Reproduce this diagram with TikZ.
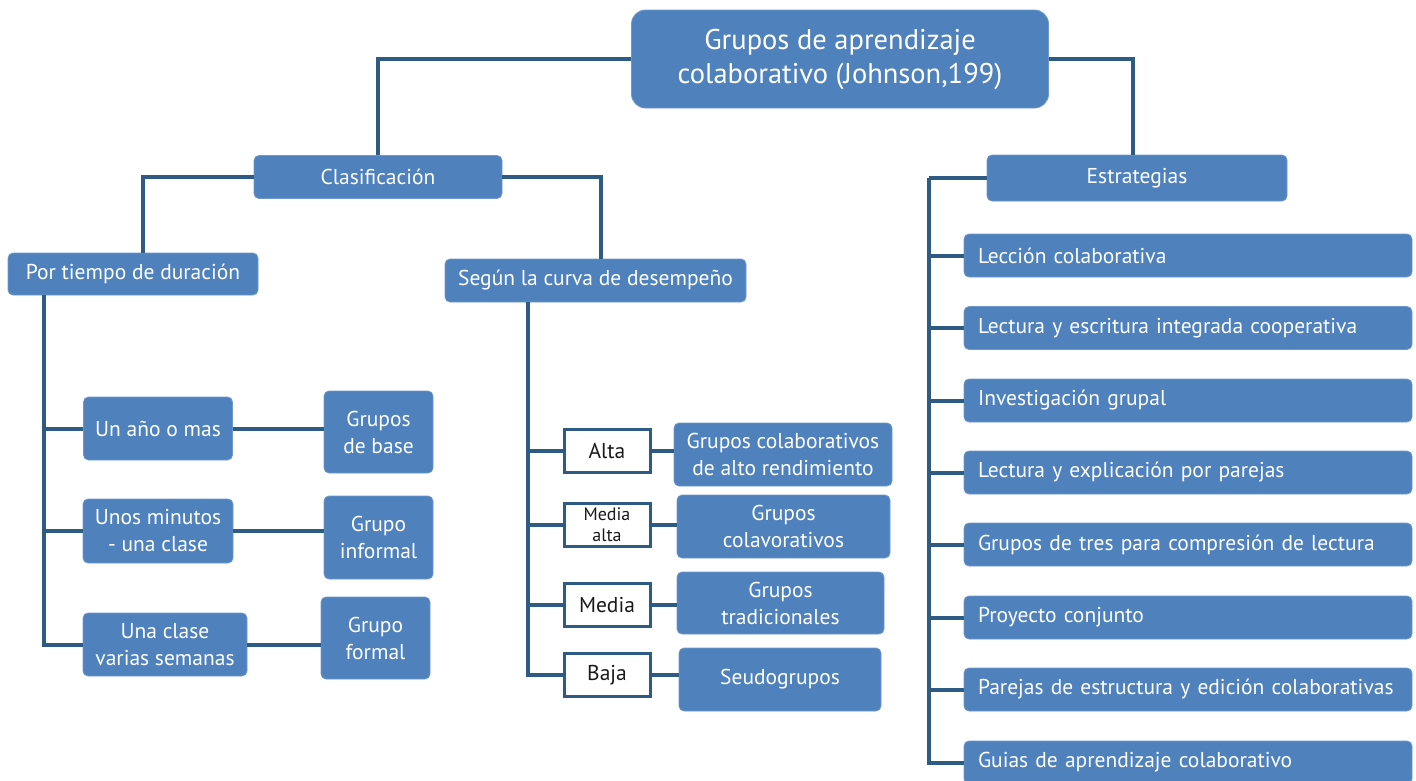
\documentclass[tikz,border=0pt]{standalone}
\usepackage{fontspec}
\setmainfont{PT Sans}
\definecolor{boxblue}{HTML}{4F81BD}
\definecolor{lineblue}{HTML}{2D5B84}
\definecolor{boxedge}{HTML}{6E98CC}
\definecolor{darktext}{HTML}{1A1A1A}
\begin{document}
\begin{tikzpicture}[x=1pt,y=-1pt,
  bluebox/.style={fill=boxblue,draw=boxedge,line width=0.8pt,rounded corners=5pt,text=white,
    font=\fontsize{21.5}{27}\selectfont,align=center,inner sep=0pt},
  stratbox/.style={bluebox,minimum width=448pt,minimum height=43pt,text width=420pt,align=left,inner xsep=14pt},
  whitebox/.style={fill=white,draw=lineblue,line width=3pt,text=darktext,
    font=\fontsize{21.5}{24}\selectfont,align=center,inner sep=0pt,minimum width=86pt,minimum height=43pt},
  conn/.style={draw=lineblue,line width=4pt}]
\useasboundingbox (0,0) rectangle (1416,780);
\clip (0,0) rectangle (1416,780);

% main nodes
\node[bluebox,rounded corners=14pt,minimum width=417pt,minimum height=98pt,font=\fontsize{28.5}{34}\selectfont] (top) at (840,59) {Grupos de aprendizaje\\colaborativo (Johnson,199)};
\node[bluebox,minimum width=248pt,minimum height=43pt] (clas) at (378,177) {Clasificación};
\node[bluebox,minimum width=300pt,minimum height=46pt] (estr) at (1137,178) {Estrategias};
\node[bluebox,minimum width=250pt,minimum height=42pt] (tiempo) at (133,274) {Por tiempo de duración};
\node[bluebox,minimum width=301pt,minimum height=43pt] (segun) at (595.5,280.5) {Según la curva de desempeño};

% left branch
\node[bluebox,minimum width=149pt,minimum height=63pt] (anio) at (158,428.5) {Un año o mas};
\node[bluebox,minimum width=109pt,minimum height=82pt] (base) at (378.5,432) {Grupos\\de base};
\node[bluebox,minimum width=150pt,minimum height=64pt] (minutos) at (158,531) {Unos minutos\\- una clase};
\node[bluebox,minimum width=109pt,minimum height=83pt] (informal) at (378.5,537.5) {Grupo\\informal};
\node[bluebox,minimum width=164pt,minimum height=63pt] (semanas) at (165,644.5) {Una clase\\varias semanas};
\node[bluebox,minimum width=109pt,minimum height=82pt] (formal) at (375.5,638) {Grupo\\formal};

% middle branch
\node[whitebox] (alta) at (607,450.5) {Alta};
\node[whitebox,font=\fontsize{18}{21}\selectfont] (malta) at (607,524.5) {Media\\alta};
\node[whitebox] (media) at (607,605) {Media};
\node[whitebox] (baja) at (607,675) {Baja};
\node[bluebox,minimum width=218pt,minimum height=63pt] (g1) at (783,454.5) {Grupos colaborativos\\de alto rendimiento};
\node[bluebox,minimum width=213pt,minimum height=63pt] (g2) at (783.5,526.5) {Grupos\\colavorativos};
\node[bluebox,minimum width=207pt,minimum height=62pt] (g3) at (780.5,603) {Grupos\\tradicionales};
\node[bluebox,minimum width=202pt,minimum height=63pt] (g4) at (780,679.5) {Seudogrupos};

% strategies
\node[stratbox] (s1) at (1188,255.5) {Lección colaborativa};
\node[stratbox] (s2) at (1188,328) {Lectura y escritura integrada cooperativa};
\node[stratbox] (s3) at (1188,400.5) {Investigación grupal};
\node[stratbox] (s4) at (1188,472.5) {Lectura y explicación por parejas};
\node[stratbox] (s5) at (1188,544.5) {Grupos de tres para compresión de lectura};
\node[stratbox] (s6) at (1188,617.5) {Proyecto conjunto};
\node[stratbox] (s7) at (1188,689.5) {Parejas de estructura y edición colaborativas};
\node[stratbox] (s8) at (1188,762.5) {Guias de aprendizaje colaborativo};

% connectors
\draw[conn] (top.west) -| (clas.north);
\draw[conn] (top.east) -| ([xshift=-4pt]estr.north);
\draw[conn] (clas.west) -| ([xshift=10pt]tiempo.north);
\draw[conn] (clas.east) -| ([xshift=5pt]segun.north);

\coordinate (tv) at ([xshift=36pt]tiempo.south west);
\draw[conn] (tv) |- (anio.west);
\draw[conn] (tv) |- (minutos.west);
\draw[conn] (tv) |- (semanas.west);
\draw[conn] (anio.east) -- (anio.east -| base.west);
\draw[conn] (minutos.east) -- (minutos.east -| informal.west);
\draw[conn] (semanas.east) -- (semanas.east -| formal.west);

\coordinate (sv) at ([xshift=83pt]segun.south west);
\draw[conn] (sv) |- (alta.west);
\draw[conn] (sv) |- (malta.west);
\draw[conn] (sv) |- (media.west);
\draw[conn] (sv) |- (baja.west);
\draw[conn] (alta.east) -- (alta.east -| g1.west);
\draw[conn] (malta.east) -- (malta.east -| g2.west);
\draw[conn] (media.east) -- (media.east -| g3.west);
\draw[conn] (baja.east) -- (baja.east -| g4.west);

\coordinate (ev) at ([xshift=-58pt]estr.west);
\draw[conn] (estr.west) -- (ev);
\foreach \s in {s1,s2,s3,s4,s5,s6,s7,s8}{
  \draw[conn] (ev) |- (\s.west);
}
\end{tikzpicture}
\end{document}
